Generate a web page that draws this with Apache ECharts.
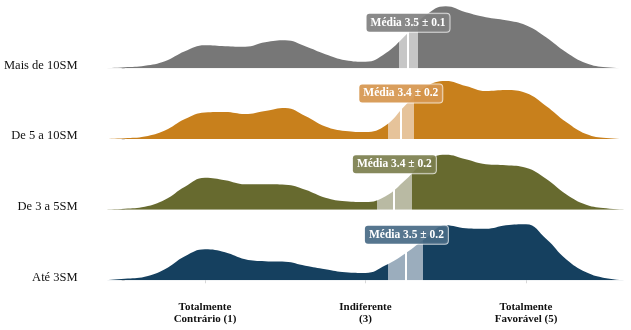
<!DOCTYPE html>
<html><head><meta charset="utf-8">
<script src="https://cdn.jsdelivr.net/npm/echarts@6/dist/echarts.min.js"></script>
<style>html,body{margin:0;padding:0;background:#fff}#c{width:631px;height:330px}</style>
</head><body><div id="c"></div>
<script>
const categories = ['Mais de 10SM', 'De 5 a 10SM', 'De 3 a 5SM', 'Até 3SM'];
const xValues = [-0.25, 0, 0.25, 0.5, 0.75, 1, 1.25, 1.5, 1.75, 2, 2.25, 2.5, 2.75, 3, 3.25, 3.5, 3.75, 4, 4.25, 4.5, 4.75, 5, 5.25, 5.5, 5.75, 6, 6.25];
const densityMais10 = [0, 1, 2.5, 7, 17, 23, 22, 21.5, 26, 28, 22, 14, 8, 6.5, 15, 33, 53, 62, 56, 51, 48, 43, 31, 16, 5, 1, 0];
const density5a10 = [0, 0.8, 2.5, 8.5, 20, 26.5, 27, 25, 28, 31, 23, 12.5, 8, 7, 13.5, 34, 52, 58, 53, 48, 49, 46, 33, 17, 5, 1, 0];
const density3a5 = [0, 1, 3, 10, 23, 32, 29.5, 25.5, 25.5, 25, 20, 12, 8.5, 7.7, 13.5, 30, 48.5, 55, 50.5, 45.5, 44.5, 42, 31, 15.5, 5, 1.5, 0];
const densityAte3 = [0, 1.5, 3.5, 11, 24, 31, 28, 21, 19, 18.5, 14.5, 11, 8, 7.3, 15, 27, 42, 55, 52, 51.5, 55, 56, 41.5, 21, 8, 2, 0];
const meanValues = [3.53, 3.44, 3.36, 3.51];
const ciLow = [3.42, 3.28, 3.14, 3.28];
const ciHigh = [3.65, 3.60, 3.58, 3.72];
const meanLabels = ['Média 3.5 ± 0.1', 'Média 3.4 ± 0.2', 'Média 3.4 ± 0.2', 'Média 3.5 ± 0.2'];
const xTickValues = [1, 3, 5];
const xTickLabels = ['Totalmente\nContrário (1)', 'Indiferente\n(3)', 'Totalmente\nFavorável (5)'];

const densities = [densityMais10, density5a10, density3a5, densityAte3];
const colors = ['#777777', '#c8801c', '#676a2f', '#15405f'];
const bandColors = ['#c6c6c6', '#e6c39a', '#b9baa3', '#9badbd'];
const boxColors = ['rgba(128,128,128,0.92)', 'rgba(214,150,78,0.92)', 'rgba(124,127,78,0.92)', 'rgba(72,106,133,0.92)'];
const serif = "'Liberation Serif', 'Times New Roman', serif";

const chart = echarts.init(document.getElementById('c'), null, {renderer: 'canvas'});
const baselines = [68.3, 139, 209.7, 280.3];
const H = 66;
const grids = [], xAxes = [], yAxes = [], series = [], visualMaps = [];
categories.forEach((name, i) => {
  grids.push({left: 84.6, width: 541.7, top: baselines[i] - H, height: H});
  const isBottom = i === categories.length - 1;
  xAxes.push({
    gridIndex: i, type: 'value', min: -0.5, max: 6.25, show: isBottom,
    offset: 10,
    splitLine: {show: false}, axisLine: {show: false},
    axisTick: {show: true, length: 3, lineStyle: {color: '#d8d8d8'}, customValues: xTickValues},
    axisLabel: {
      customValues: xTickValues, margin: 11,
      formatter: v => xTickLabels[xTickValues.indexOf(v)] || '',
      fontFamily: serif, fontWeight: 'bold', fontSize: 11, lineHeight: 12, color: '#111'
    }
  });
  yAxes.push({
    gridIndex: i, type: 'value', min: 0, max: H,
    splitLine: {show: false}, axisLine: {show: false},
    axisTick: {show: true, length: 3, lineStyle: {color: '#d8d8d8'}, customValues: [0]},
    axisLabel: {
      customValues: [0], formatter: () => name, margin: 7,
      fontFamily: serif, fontSize: 12.5, color: '#111',
      verticalAlign: 'bottom', lineHeight: 6
    }
  });
  const m = meanValues[i], e = 0.013;
  visualMaps.push({
    type: 'piecewise', show: false, seriesIndex: i, dimension: 0,
    pieces: [
      {lt: ciLow[i], color: colors[i]},
      {gte: ciLow[i], lt: m - e, color: bandColors[i]},
      {gte: m - e, lte: m + e, color: '#ffffff'},
      {gt: m + e, lte: ciHigh[i], color: bandColors[i]},
      {gt: ciHigh[i], color: colors[i]}
    ]
  });
  series.push({
    type: 'line', xAxisIndex: i, yAxisIndex: i,
    data: xValues.map((x, k) => [x, densities[i][k]]),
    smooth: 0.45, showSymbol: false, silent: true,
    lineStyle: {width: 0},
    areaStyle: {opacity: 1},
    markPoint: {
      silent: true,
      symbol: 'rect', symbolSize: 1, itemStyle: {color: 'rgba(0,0,0,0)'},
      data: [{coord: [m, 45.5]}],
      label: {
        show: true, position: 'inside', formatter: meanLabels[i],
        fontFamily: serif, fontWeight: 'bold', fontSize: 11.5, color: '#fff',
        backgroundColor: boxColors[i], borderColor: 'rgba(255,255,255,0.75)', borderWidth: 1,
        borderRadius: 3, padding: [3, 4, 3, 4]
      }
    }
  });
});

chart.setOption({
  animation: false,
  backgroundColor: '#fff',
  grid: grids, xAxis: xAxes, yAxis: yAxes, visualMap: visualMaps, series: series
});
</script>
</body></html>
